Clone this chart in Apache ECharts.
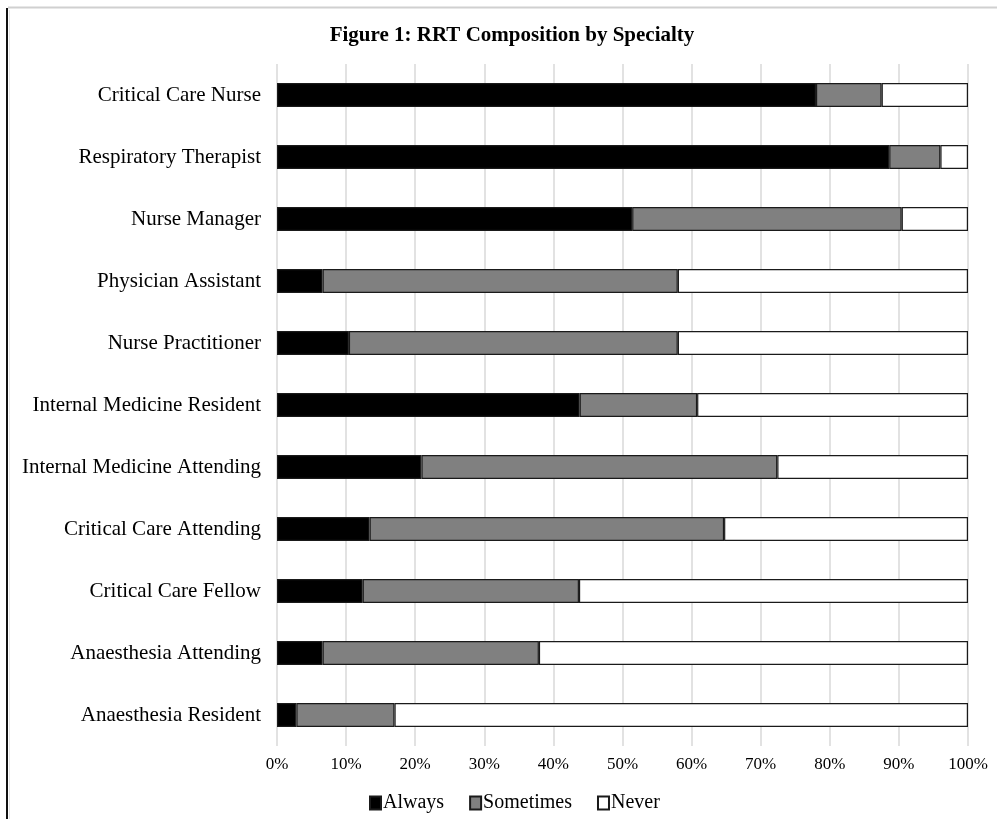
<!DOCTYPE html>
<html>
<head>
<meta charset="utf-8">
<script src="https://cdn.jsdelivr.net/npm/echarts@6/dist/echarts.min.js"></script>
<style>
  html, body { margin: 0; padding: 0; background: #fff; }
  #chart { width: 997px; height: 819px; }
</style>
</head>
<body>
<div id="chart"></div>
<script>
// Specialties, top to bottom
var categories = [
  'Critical Care Nurse',
  'Respiratory Therapist',
  'Nurse Manager',
  'Physician Assistant',
  'Nurse Practitioner',
  'Internal Medicine Resident',
  'Internal Medicine Attending',
  'Critical Care Attending',
  'Critical Care Fellow',
  'Anaesthesia Attending',
  'Anaesthesia Resident'
];

// Share of respondents (%) per answer
var always    = [78.0, 88.6, 51.4, 6.6, 10.4, 43.8, 20.9, 13.4, 12.4, 6.6, 2.8];
var sometimes = [9.5, 7.4, 39.0, 51.4, 47.6, 17.0, 51.5, 51.3, 31.3, 31.3, 14.2];
var never     = [12.5, 4.0, 9.6, 42.0, 42.0, 39.2, 27.6, 35.3, 56.3, 62.1, 83.0];

var seriesNames = ['Always', 'Sometimes', 'Never'];
var seriesColors = ['#000000', '#808080', '#ffffff'];
var seriesData = [always, sometimes, never];

var serif = '"Liberation Serif", "Times New Roman", serif';

var chart = echarts.init(document.getElementById('chart'), null, { renderer: 'canvas' });

chart.setOption({
  animation: false,
  backgroundColor: '#ffffff',
  textStyle: { fontFamily: serif },
  title: {
    text: 'Figure 1: RRT Composition by Specialty',
    left: 507,
    textAlign: 'center',
    top: 20,
    textStyle: { fontFamily: serif, fontSize: 21, fontWeight: 'bold', color: '#000' }
  },
  legend: {
    data: seriesNames,
    left: 364,
    top: 788,
    icon: 'rect',
    itemWidth: 11,
    itemHeight: 13,
    itemGap: 25,
    textStyle: { fontFamily: serif, fontSize: 20, color: '#000', padding: [0, 0, 0, -3] }
  },
  grid: { left: 277, right: 29, top: 64, bottom: 73, containLabel: false },
  xAxis: {
    type: 'value',
    min: 0,
    max: 100,
    interval: 10,
    axisLine: { show: false },
    axisTick: { show: false },
    splitLine: { show: true, lineStyle: { color: '#d9d9d9', width: 1.5 } },
    axisLabel: {
      formatter: '{value}%',
      fontFamily: serif,
      fontSize: 17,
      color: '#000',
      margin: 10
    }
  },
  yAxis: {
    type: 'category',
    data: categories,
    inverse: true,
    axisLine: { show: false },
    axisTick: { show: false },
    splitLine: { show: false },
    axisLabel: { fontFamily: serif, fontSize: 21, color: '#000', margin: 16 }
  },
  series: seriesNames.map(function (name, i) {
    return {
      name: name,
      type: 'bar',
      stack: 'total',
      barWidth: 24,
      data: seriesData[i],
      itemStyle: { color: seriesColors[i], borderColor: '#1a1a1a', borderWidth: 1.2 }
    };
  }),
  graphic: [
    { type: 'line', shape: { x1: 7, y1: 8, x2: 7, y2: 819 }, style: { stroke: '#111', lineWidth: 2 } },
    { type: 'line', shape: { x1: 9.5, y1: 10, x2: 9.5, y2: 819 }, style: { stroke: '#e6e6e6', lineWidth: 1 } },
    { type: 'line', shape: { x1: 8, y1: 7.5, x2: 997, y2: 7.5 }, style: { stroke: '#d0d0d0', lineWidth: 2 } }
  ]
});
</script>
</body>
</html>
